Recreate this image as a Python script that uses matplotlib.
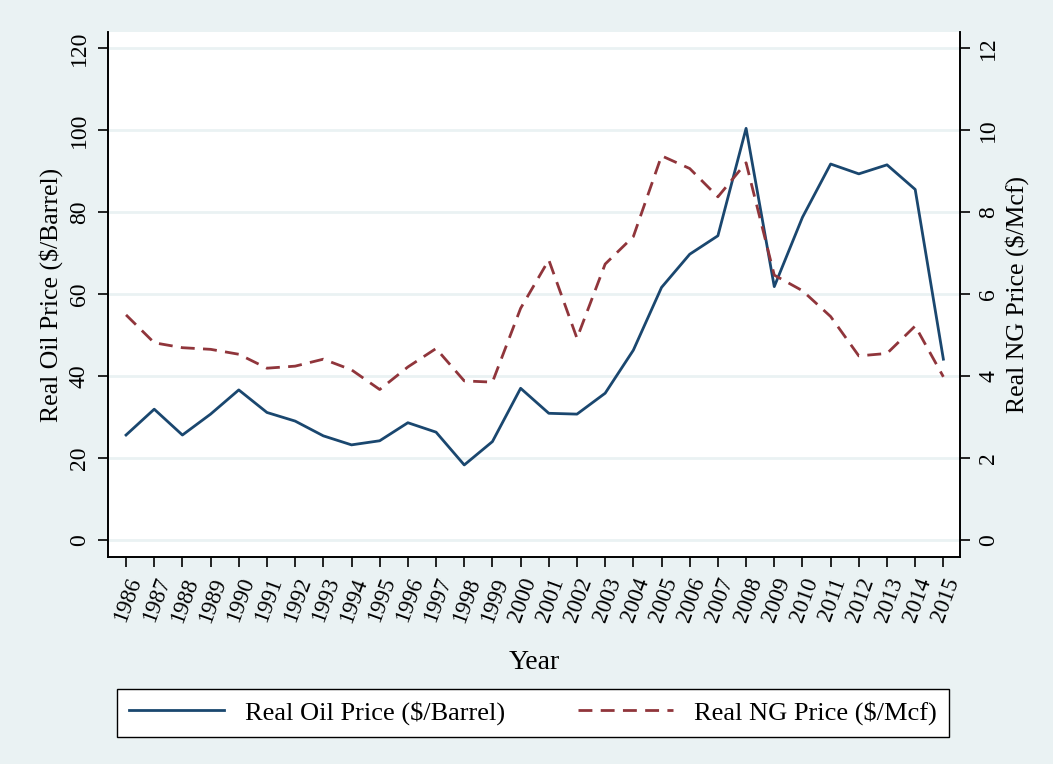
import numpy as np
import matplotlib
matplotlib.use("Agg")
import matplotlib.pyplot as plt

plt.rcParams['font.family'] = ['Liberation Serif', 'DejaVu Serif']

years = list(range(1986, 2016))
oil = [25.6, 31.9, 25.6, 30.7, 36.6, 31.1, 29.0, 25.4, 23.2, 24.2,
       28.6, 26.3, 18.3, 24.0, 37.0, 30.9, 30.7, 35.8, 46.3, 61.6,
       69.7, 74.2, 100.4, 61.8, 78.7, 91.7, 89.3, 91.5, 85.5, 44.1]
ng = [5.49, 4.81, 4.69, 4.65, 4.53, 4.19, 4.24, 4.41, 4.15, 3.67,
      4.22, 4.67, 3.88, 3.85, 5.65, 6.83, 4.92, 6.73, 7.40, 9.37,
      9.06, 8.37, 9.20, 6.46, 6.08, 5.45, 4.49, 4.55, 5.22, 3.98]
left_ticks = [0, 20, 40, 60, 80, 100, 120]
right_ticks = [0, 2, 4, 6, 8, 10, 12]

bg = '#EAF2F3'
navy = '#1A476F'
maroon = '#90353B'
fs = 17

fig = plt.figure(figsize=(10.53, 7.64), dpi=100, facecolor=bg)
ax1 = fig.add_axes([108/1053, 1-557/764, 852/1053, 525/764])
ax2 = ax1.twinx()

l1, = ax1.plot(years, oil, color=navy, lw=2, label='Real Oil Price ($/Barrel)')
l2, = ax2.plot(years, ng, color=maroon, lw=2, ls=(0, (5, 3)),
               label='Real NG Price ($/Mcf)')

ax1.set_xlim(1985.36, 2015.59)
ax1.set_ylim(-4.15, 123.9)
ax2.set_ylim(-0.415, 12.39)

ax1.set_yticks(left_ticks)
ax2.set_yticks(right_ticks)
ax1.set_xticks(years)
ax1.set_xticklabels([str(y) for y in years], rotation=70, ha='right',
                    rotation_mode='anchor', fontsize=16.5)
ax1.set_yticklabels([str(t) for t in left_ticks], rotation=90, va='center',
                    fontsize=fs)
ax2.set_yticklabels([str(t) for t in right_ticks], rotation=90, va='center',
                    fontsize=fs)

for ax in (ax1, ax2):
    ax.tick_params(length=7, width=1.2, color='black', pad=6)
ax1.grid(axis='y', color=bg, lw=2)
ax1.set_axisbelow(True)

for sp in ('left', 'right', 'bottom'):
    ax1.spines[sp].set_linewidth(1.2)
    ax2.spines[sp].set_linewidth(1.2)
ax1.spines['top'].set_visible(False)
ax2.spines['top'].set_visible(False)

ax1.set_xlabel('Year', fontsize=20, labelpad=18)
ax1.set_ylabel('Real Oil Price ($/Barrel)', fontsize=18.5, labelpad=4)
ax2.set_ylabel('Real NG Price ($/Mcf)', fontsize=18.5, labelpad=4)

leg = fig.legend(handles=[l1, l2], loc='lower left',
                 bbox_to_anchor=(117/1053, 1-737/764, 832/1053, 49/764),
                 mode='expand', ncol=2,
                 fontsize=19, frameon=True, fancybox=False,
                 edgecolor='black', framealpha=1, handlelength=3.6,
                 handletextpad=0.8, borderpad=0.45, borderaxespad=0)
leg.get_frame().set_linewidth(1)

fig.savefig('out.png', dpi=100, facecolor=bg)
